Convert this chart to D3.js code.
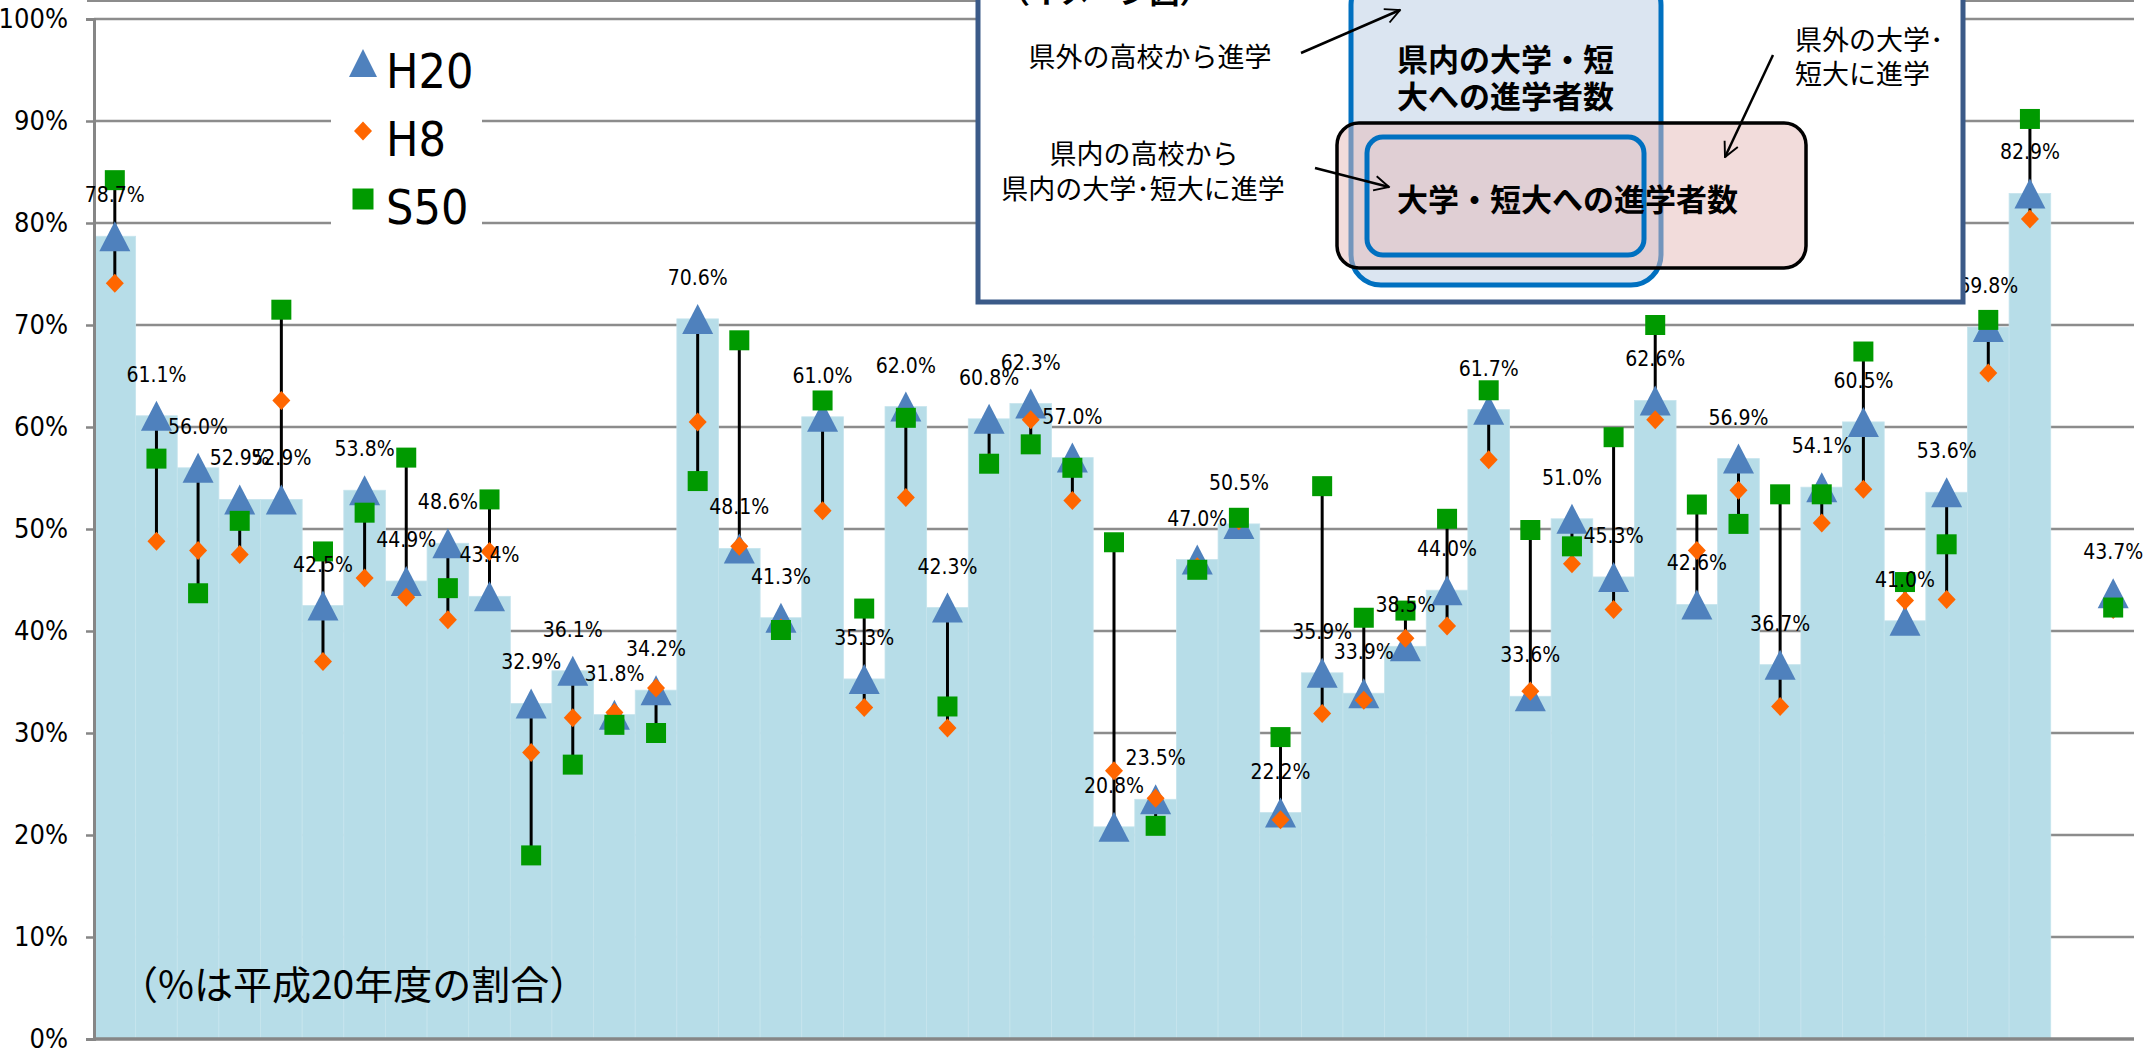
<!DOCTYPE html>
<html>
<head>
<meta charset="utf-8">
<script src="https://cdn.jsdelivr.net/npm/d3@7"></script>
<style>
body { margin: 0; background: #fff; }
svg { display: block; }
</style>
</head>
<body>
<div id="wrapper"></div>
<script>
// categories: 47 prefectures, a blank slot, then the national value
const prefectures = ["北海道","青森","岩手","宮城","秋田","山形","福島","茨城","栃木","群馬","埼玉","千葉","東京","神奈川",
    "新潟","富山","石川","福井","山梨","長野","岐阜","静岡","愛知","三重","滋賀","京都","大阪","兵庫","奈良","和歌山",
    "鳥取","島根","岡山","広島","山口","徳島","香川","愛媛","高知","福岡","佐賀","長崎","熊本","大分","宮崎","鹿児島","沖縄",
    " ", "全国"];

const h20 = [78.7,61.1,56.0,52.9,52.9,42.5,53.8,44.9,48.6,43.4,32.9,36.1,31.8,34.2,70.6,48.1,41.3,61.0,35.3,62.0,42.3,60.8,62.3,57.0,
    20.8,23.5,47.0,50.5,22.2,35.9,33.9,38.5,44.0,61.7,33.6,51.0,45.3,62.6,42.6,56.9,36.7,54.1,60.5,41.0,53.6,69.8,82.9,null,43.7];
const h8 = [74.1,48.8,47.9,47.5,62.6,37.0,45.2,43.3,41.1,47.8,28.1,31.5,32.0,34.4,60.5,48.3,40.3,51.8,32.5,53.1,30.5,56.5,60.7,52.8,
    26.3,23.6,46.3,50.8,21.5,31.9,33.2,39.3,40.5,56.8,34.1,46.6,42.1,60.7,47.9,53.8,32.6,50.6,53.9,43.0,43.1,65.3,80.4,null,42.1];
const s50 = [84.2,56.9,43.7,50.8,71.5,47.8,51.6,57.0,44.2,52.9,18.0,26.9,30.8,30.0,54.7,68.5,40.1,62.6,42.2,60.9,32.6,56.4,58.3,56.0,
    48.7,20.9,46.0,51.1,29.6,54.2,41.3,42.0,51.0,63.6,49.9,48.3,59.0,70.0,52.4,50.5,53.4,53.4,67.4,44.8,48.5,70.5,90.2,null,42.3];

const yTicks = [0,10,20,30,40,50,60,70,80,90,100];
const legendNames = ["H20","H8","S50"];

const numFont = "'Liberation Sans Narrow','Arial Narrow','DejaVu Sans Condensed',sans-serif";
const jpFont = "'Noto Sans CJK JP','Noto Sans CJK SC',sans-serif";

var dimension = {
    width: 2151,
    height: 1052,
    margin: { left: 94, right: 17, top: 19, bottom: 13 }
};

const colors = { H20: "#4f81bd", H8: "#ff6600", S50: "#009a00", bar: "#b7dde8", grid: "#8c8c8c" };

const svg = d3.select("#wrapper").append("svg")
    .attr("width", dimension.width)
    .attr("height", dimension.height);

const x_scaler = d3.scaleBand()
    .domain(prefectures)
    .range([dimension.margin.left, dimension.width - dimension.margin.right])
    .paddingInner(0).paddingOuter(0);

const y_scaler = d3.scaleLinear()
    .domain([0, 100])
    .range([dimension.height - dimension.margin.bottom, dimension.margin.top]);

const cx = (i) => x_scaler(prefectures[i]) + x_scaler.bandwidth() / 2;

// top border line
svg.append("line")
    .attr("x1", dimension.margin.left - 7).attr("x2", dimension.width - dimension.margin.right)
    .attr("y1", 1).attr("y2", 1)
    .attr("stroke", colors.grid).attr("stroke-width", 2);

// gridlines
svg.append("g")
    .selectAll("line")
    .data(yTicks.filter(d => d > 0))
    .join("line")
    .attr("x1", dimension.margin.left)
    .attr("x2", dimension.width - dimension.margin.right)
    .attr("y1", d => y_scaler(d)).attr("y2", d => y_scaler(d))
    .attr("stroke", colors.grid).attr("stroke-width", 2.5);

// step area (H20 bars)
const barData = h20.map((v, i) => ({ v, i })).filter(d => d.v != null && d.i < 47);
svg.append("g")
    .selectAll("rect")
    .data(barData)
    .join("rect")
    .attr("x", d => x_scaler(prefectures[d.i]))
    .attr("width", x_scaler.bandwidth())
    .attr("y", d => y_scaler(d.v))
    .attr("height", d => y_scaler(0) - y_scaler(d.v))
    .attr("fill", colors.bar)
    .attr("stroke", "#c6e4ed").attr("stroke-width", 0.8);

// axes
const y_axis = d3.axisLeft(y_scaler).tickValues(yTicks).tickSize(8).tickFormat(d => d + "%");
const gy = svg.append("g")
    .attr("transform", `translate(${dimension.margin.left},0)`)
    .call(y_axis);
gy.select(".domain").attr("stroke", "#868686").attr("stroke-width", 3);
gy.selectAll(".tick line").attr("stroke", "#868686").attr("stroke-width", 2.5);
gy.selectAll(".tick text")
    .attr("x", -26)
    .style("font-family", numFont).style("font-size", "27px").attr("fill", "#000");

svg.append("line")
    .attr("x1", dimension.margin.left).attr("x2", dimension.width - dimension.margin.right)
    .attr("y1", y_scaler(0)).attr("y2", y_scaler(0))
    .attr("stroke", "#868686").attr("stroke-width", 3.5);

// high-low lines
const idx = d3.range(prefectures.length).filter(i => h20[i] != null);
svg.append("g")
    .selectAll("line")
    .data(idx)
    .join("line")
    .attr("x1", i => cx(i)).attr("x2", i => cx(i))
    .attr("y1", i => y_scaler(Math.max(h20[i], h8[i], s50[i])))
    .attr("y2", i => y_scaler(Math.min(h20[i], h8[i], s50[i])))
    .attr("stroke", "#000").attr("stroke-width", 3);

const triPath = "M0,-15L15.5,15L-15.5,15Z";
const diaPath = "M0,-9.5L9,0L0,9.5L-9,0Z";
const sqPath = "M-10,-10H10V10H-10Z";

function drawMarkers(values, path, color) {
    svg.append("g")
        .selectAll("path")
        .data(idx)
        .join("path")
        .attr("d", path)
        .attr("transform", i => `translate(${cx(i)},${y_scaler(values[i])})`)
        .attr("fill", color);
}
drawMarkers(h20, triPath, colors.H20);
drawMarkers(h8, diaPath, colors.H8);
drawMarkers(s50, sqPath, colors.S50);

// data labels for H20
svg.append("g")
    .selectAll("text")
    .data(idx)
    .join("text")
    .attr("x", i => cx(i))
    .attr("y", i => y_scaler(h20[i]) - 34)
    .attr("text-anchor", "middle")
    .style("font-family", numFont).style("font-size", "21px")
    .text(i => h20[i].toFixed(1) + "%");

// legend
const legend = svg.append("g");
legend.append("rect")
    .attr("x", 331).attr("y", 36).attr("width", 151).attr("height", 200)
    .attr("fill", "#fff");
const legendShapes = [
    { d: "M0,-14L14,14L-14,14Z", c: colors.H20 },
    { d: "M0,-9.5L9,0L0,9.5L-9,0Z", c: colors.H8 },
    { d: "M-10.5,-10.5H10.5V10.5H-10.5Z", c: colors.S50 }
];
legendNames.forEach((name, k) => {
    legend.append("path")
        .attr("d", legendShapes[k].d)
        .attr("transform", `translate(363,${63 + k * 68})`)
        .attr("fill", legendShapes[k].c);
    legend.append("text")
        .attr("x", 386).attr("y", 88 + k * 68)
        .style("font-family", numFont).style("font-size", "48px")
        .text(name);
});

// note
svg.append("text")
    .attr("x", 119).attr("y", 999)
    .style("font-family", jpFont).style("font-size", "39px")
    .text("（%は平成20年度の割合）");

// inset illustration
const defs = svg.append("defs");
defs.append("marker")
    .attr("id", "arrow").attr("viewBox", "0 0 12 12")
    .attr("refX", 11).attr("refY", 6)
    .attr("markerWidth", 7).attr("markerHeight", 7)
    .attr("markerUnits", "strokeWidth")
    .attr("orient", "auto")
    .append("path").attr("d", "M1,1L11,6L1,11")
    .attr("fill", "none").attr("stroke", "#000").attr("stroke-width", 1.3);

const inset = svg.append("g");
inset.append("rect")
    .attr("x", 978).attr("y", -20).attr("width", 985).attr("height", 322)
    .attr("fill", "#fff").attr("stroke", "#3b5a88").attr("stroke-width", 5);
inset.append("text")
    .attr("x", 1000).attr("y", 3)
    .style("font-family", jpFont).style("font-size", "30px").style("font-weight", "bold")
    .text("（イメージ図）");

inset.append("rect")
    .attr("x", 1351).attr("y", -25).attr("width", 310).attr("height", 310).attr("rx", 30)
    .attr("fill", "#dbe5f1").attr("stroke", "#0070c0").attr("stroke-width", 5);
inset.append("text")
    .attr("x", 1397).attr("y", 71)
    .style("font-family", jpFont).style("font-size", "31px").style("font-weight", "bold")
    .text("県内の大学・短");
inset.append("text")
    .attr("x", 1397).attr("y", 108)
    .style("font-family", jpFont).style("font-size", "31px").style("font-weight", "bold")
    .text("大への進学者数");

inset.append("rect")
    .attr("x", 1337).attr("y", 123).attr("width", 469).attr("height", 145).attr("rx", 22)
    .attr("fill", "#e6b9b8").attr("fill-opacity", 0.5)
    .attr("stroke", "#000").attr("stroke-width", 3.5);
inset.append("rect")
    .attr("x", 1367).attr("y", 137).attr("width", 277).attr("height", 118).attr("rx", 16)
    .attr("fill", "none").attr("stroke", "#0070c0").attr("stroke-width", 5);
inset.append("text")
    .attr("x", 1397).attr("y", 211)
    .style("font-family", jpFont).style("font-size", "31px").style("font-weight", "bold")
    .text("大学・短大への進学者数");

const smallText = [
    { t: "県外の高校から進学", x: 1150, y: 67, a: "middle" },
    { t: "県内の高校から", x: 1144, y: 164, a: "middle" },
    { t: "県内の大学･短大に進学", x: 1143, y: 199, a: "middle" },
    { t: "県外の大学･", x: 1795, y: 50, a: "start" },
    { t: "短大に進学", x: 1795, y: 84, a: "start" }
];
smallText.forEach(s => {
    inset.append("text")
        .attr("x", s.x).attr("y", s.y).attr("text-anchor", s.a)
        .style("font-family", jpFont).style("font-size", "27px")
        .text(s.t);
});

const arrows = [
    [1301, 53, 1400, 10],
    [1315, 168, 1389, 187],
    [1773, 55, 1725, 157]
];
arrows.forEach(a => {
    inset.append("line")
        .attr("x1", a[0]).attr("y1", a[1]).attr("x2", a[2]).attr("y2", a[3])
        .attr("stroke", "#000").attr("stroke-width", 2.5)
        .attr("marker-end", "url(#arrow)");
});
</script>
</body>
</html>
